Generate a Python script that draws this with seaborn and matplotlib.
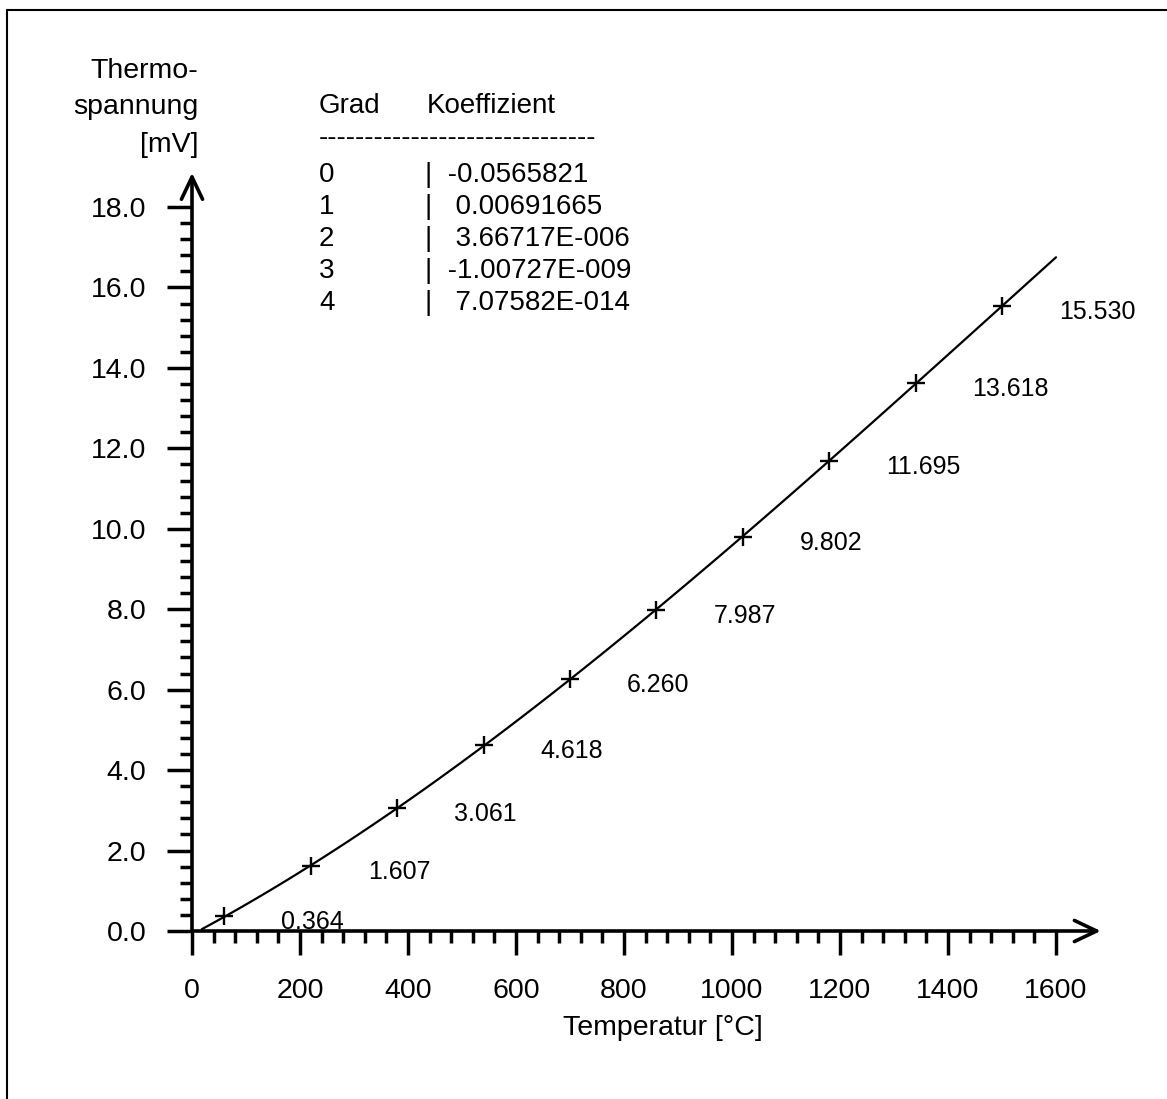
import numpy as np
import pandas as pd
import matplotlib
matplotlib.use("Agg")
import matplotlib.pyplot as plt
from matplotlib.lines import Line2D
from matplotlib.ticker import FixedLocator
import seaborn as sns

# ---- data ----
temperatures = [60, 220, 380, 540, 700, 860, 1020, 1180, 1340, 1500]
voltages = [0.364, 1.607, 3.061, 4.618, 6.260, 7.987, 9.802, 11.695, 13.618, 15.530]
point_labels = ["0.364", "1.607", "3.061", "4.618", "6.260", "7.987",
                "9.802", "11.695", "13.618", "15.530"]
x_ticks = [0, 200, 400, 600, 800, 1000, 1200, 1400, 1600]
x_tick_labels = ["0", "200", "400", "600", "800", "1000", "1200", "1400", "1600"]
y_ticks = [0, 2, 4, 6, 8, 10, 12, 14, 16, 18]
y_tick_labels = ["0.0", "2.0", "4.0", "6.0", "8.0", "10.0", "12.0", "14.0", "16.0", "18.0"]
grad = ["0", "1", "2", "3", "4"]
koeffizient = ["-0.0565821", " 0.00691665", " 3.66717E-006", "-1.00727E-009", " 7.07582E-014"]

df = pd.DataFrame({"Temperatur": temperatures, "Thermospannung": voltages})

sns.set_theme(style="white")
plt.rcParams["font.family"] = ["Liberation Sans", "DejaVu Sans"]
plt.rcParams["text.color"] = "black"
plt.rcParams["xtick.labelcolor"] = "black"
plt.rcParams["ytick.labelcolor"] = "black"

W, H = 1167, 1099
fig = plt.figure(figsize=(W / 100, H / 100), dpi=100)
ax = fig.add_axes([0, 0, 1, 1])
ax.set_facecolor("white")

def fx(px):
    return px / W

def fy(py):
    return 1 - py / H

# pixel mapping: x=0 -> 192px, 1600 -> 1056px ; y=0 -> 931px, 18 -> 207px
x0p, xs = 192.0, 864.0 / 1600.0
y0p, ys = 931.0, 724.0 / 18.0

# curve (4th order fit via seaborn)
ax.set_xlim(18, 1600)
sns.regplot(data=df, x="Temperatur", y="Thermospannung", order=4, ci=None,
            scatter=False, truncate=False,
            line_kws=dict(color="black", lw=1.6, zorder=3), ax=ax)

sns.scatterplot(data=df, x="Temperatur", y="Thermospannung", marker="+", s=160,
                color="black", linewidth=1.7, zorder=4, ax=ax, legend=False)

# final limits so that axes fill figure
ax.set_xlim(-x0p / xs, (W - x0p) / xs)
ax.set_ylim(-(H - y0p) / ys, y0p / ys)
ax.set_xlabel("")
ax.set_ylabel("")

# spines at data zero, hidden (arrows drawn instead)
for s in ["top", "right"]:
    ax.spines[s].set_visible(False)
ax.spines["left"].set_position(("data", 0))
ax.spines["bottom"].set_position(("data", 0))
ax.spines["left"].set_visible(False)
ax.spines["bottom"].set_visible(False)

ax.xaxis.set_major_locator(FixedLocator(x_ticks))
ax.set_xticklabels(x_tick_labels)
ax.xaxis.set_minor_locator(FixedLocator([v for v in range(0, 1601, 40) if v % 200]))
ax.yaxis.set_major_locator(FixedLocator(y_ticks))
ax.set_yticklabels(y_tick_labels)
ax.yaxis.set_minor_locator(FixedLocator([round(v * 0.4, 1) for v in range(0, 46) if v % 5]))

ax.tick_params(axis="both", which="both", direction="out", color="black",
               bottom=True, left=True, top=False, right=False, width=2.5)
ax.tick_params(axis="x", which="major", length=17.5, pad=16, labelsize=20.5)
ax.tick_params(axis="x", which="minor", length=8.6)
ax.tick_params(axis="y", which="major", length=18, pad=15, labelsize=20.5)
ax.tick_params(axis="y", which="minor", length=9)
ax.grid(False)

# axis arrows
arrow_kw = dict(arrowstyle="->,head_length=0.8,head_width=0.38", lw=2.6,
                color="black", shrinkA=0, shrinkB=0, mutation_scale=20)
ax.annotate("", xy=(1683, 0), xytext=(0, 0), arrowprops=arrow_kw, zorder=5)
ax.annotate("", xy=(0, 18.85), xytext=(0, 0), arrowprops=arrow_kw, zorder=5)

# point labels
for xv, yv, lab in zip(temperatures, voltages, point_labels):
    ax.annotate(lab, xy=(xv, yv), xytext=(57, -13), textcoords="offset pixels",
                ha="left", va="baseline", fontsize=18, color="black")

# axis titles
fs = 20.5
fig.text(fx(198), fy(78), "Thermo-", ha="right", va="baseline", fontsize=fs)
fig.text(fx(198), fy(114), "spannung", ha="right", va="baseline", fontsize=fs)
fig.text(fx(198), fy(152), "[mV]", ha="right", va="baseline", fontsize=fs)
fig.text(fx(663), fy(1035), "Temperatur [°C]", ha="center", va="baseline", fontsize=fs)

# coefficient table
fig.text(fx(319), fy(113), "Grad", ha="left", va="baseline", fontsize=20)
fig.text(fx(427), fy(113), "Koeffizient", ha="left", va="baseline", fontsize=20)
fig.text(fx(319), fy(145), "-" * 30, ha="left", va="baseline", fontsize=20)
for i, (g, k) in enumerate(zip(grad, koeffizient)):
    yb = 182 + 32 * i
    fig.text(fx(319), fy(yb), g, ha="left", va="baseline", fontsize=20)
    fig.text(fx(425), fy(yb), "|  " + k, ha="left", va="baseline", fontsize=20)

# page frame (left and top edges)
fig.add_artist(Line2D([fx(7), fx(7)], [fy(10), 0], transform=fig.transFigure,
                      color="black", lw=1.5))
fig.add_artist(Line2D([fx(7), 1], [fy(10), fy(10)], transform=fig.transFigure,
                      color="black", lw=1.5))

fig.savefig("out.png", dpi=100, facecolor="white")
